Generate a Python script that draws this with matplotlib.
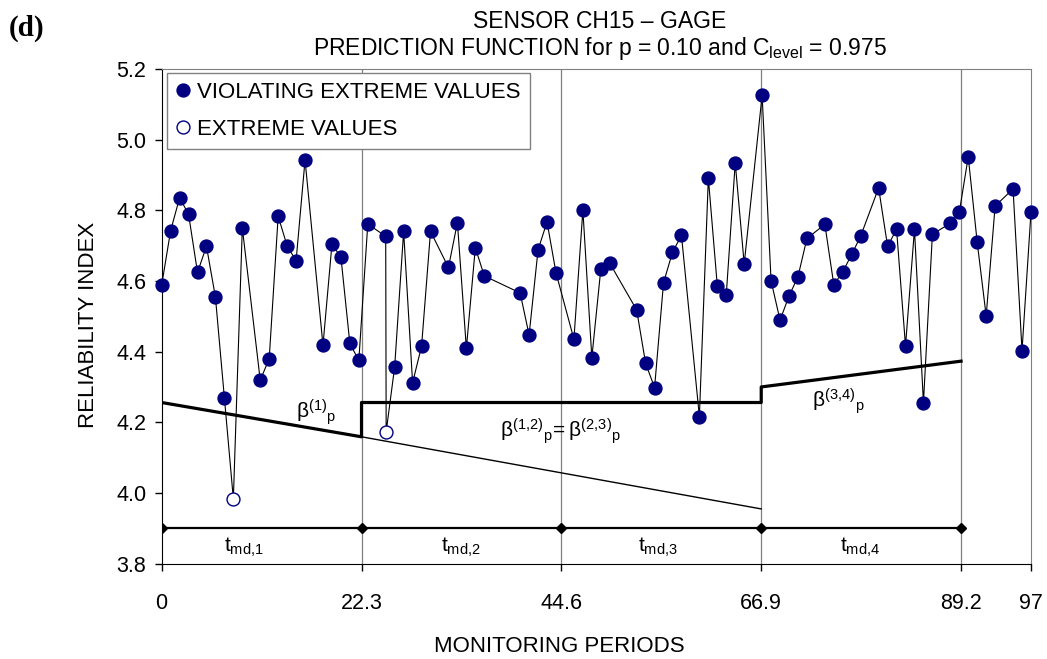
import matplotlib
matplotlib.use('Agg')
import matplotlib.pyplot as plt
from matplotlib.lines import Line2D

plt.rcParams['font.family'] = ['Liberation Sans', 'DejaVu Sans']
plt.rcParams['mathtext.fontset'] = 'custom'
plt.rcParams['mathtext.rm'] = 'Liberation Sans'
plt.rcParams['mathtext.it'] = 'Liberation Sans:italic'
plt.rcParams['mathtext.bf'] = 'Liberation Sans:bold'

# monitoring periods and reliability index of every measurement
periods = [0, 1, 2, 3, 4, 5, 6, 7, 8, 9, 11, 12, 13, 14, 15, 16, 18, 19, 20, 21,
           22, 23, 25, 25.05, 26, 27, 28, 29, 30, 32, 33, 34, 35, 36, 40, 41, 42,
           43, 44, 46, 47, 48, 49, 50, 53, 54, 55, 56, 57, 58, 60, 61, 62, 63, 64,
           65, 67, 68, 69, 70, 71, 72, 74, 75, 76, 77, 78, 80, 81, 82, 83, 84, 85,
           86, 88, 89, 90, 91, 92, 93, 95, 96, 97]
beta = [4.588, 4.742, 4.835, 4.789, 4.624, 4.698, 4.554, 4.269, 3.983, 4.750,
        4.319, 4.380, 4.783, 4.699, 4.657, 4.942, 4.418, 4.703, 4.668, 4.423,
        4.375, 4.761, 4.726, 4.173, 4.357, 4.740, 4.312, 4.415, 4.740, 4.638,
        4.765, 4.409, 4.694, 4.614, 4.566, 4.447, 4.688, 4.767, 4.623, 4.435,
        4.800, 4.383, 4.633, 4.650, 4.518, 4.367, 4.298, 4.595, 4.681, 4.729,
        4.216, 4.891, 4.586, 4.561, 4.934, 4.648, 5.125, 4.600, 4.489, 4.557,
        4.612, 4.720, 4.760, 4.589, 4.626, 4.675, 4.727, 4.863, 4.698, 4.746,
        4.416, 4.746, 4.255, 4.732, 4.763, 4.794, 4.951, 4.709, 4.501, 4.812,
        4.860, 4.403, 4.794]
extreme_periods = [8, 25.05]   # the two non-violating extreme values

# prediction function (thick) and its continuation (thin)
pred_x = [0, 22.3, 22.3, 66.9, 66.9, 89.2]
pred_y = [4.256, 4.159, 4.256, 4.256, 4.300, 4.373]
cont_x = [22.3, 66.9]
cont_y = [4.159, 3.955]

# monitoring intervals
t_nodes = [0, 22.3, 44.6, 66.9, 89.2]
t_level = 3.9
t_labels = [r'$\mathregular{t_{md,\!1}}$', r'$\mathregular{t_{md,\!2}}$',
            r'$\mathregular{t_{md,\!3}}$', r'$\mathregular{t_{md,\!4}}$']
t_label_x = [9.2, 33.4, 55.4, 77.9]

beta_labels = [r'$\mathregular{β^{(1)}{}_p}$',
               r'$\mathregular{β^{(1,\!2)}{}_p\!= β^{(2,\!3)}{}_p}$',
               r'$\mathregular{β^{(3,\!4)}{}_p}$']
beta_label_x = [17.2, 44.5, 75.5]
beta_label_y = [4.23, 4.175, 4.26]

xticks = [0, 22.3, 44.6, 66.9, 89.2, 97]
xticklabels = ['0', '22.3', '44.6', '66.9', '89.2', '97']
yticks = [3.8, 4.0, 4.2, 4.4, 4.6, 4.8, 5.0, 5.2]

navy = '#000080'
grey = '#808080'

fig = plt.figure(figsize=(10.47, 6.59), dpi=100)
ax = fig.add_axes([0.1544, 0.1446, 0.8303, 0.7510])

for x in t_nodes[1:]:
    ax.axvline(x, color=grey, lw=0.9, zorder=1)

ax.plot(pred_x, pred_y, color='black', lw=2.3, zorder=2)
ax.plot(cont_x, cont_y, color='black', lw=1.0, zorder=2)
ax.plot(t_nodes, [t_level] * len(t_nodes), color='black', lw=1.6,
        marker='D', markersize=5, zorder=2)

ax.plot(periods, beta, color='black', lw=0.8, zorder=3, clip_on=False)
viol_x = [p for p in periods if p not in extreme_periods]
viol_y = [b for p, b in zip(periods, beta) if p not in extreme_periods]
ext_y = [b for p, b in zip(periods, beta) if p in extreme_periods]
ax.plot(viol_x, viol_y, ls='none', marker='o', markersize=9.3,
        mfc=navy, mec=navy, zorder=4, clip_on=False)
ax.plot(extreme_periods, ext_y, ls='none', marker='o', markersize=9.3,
        mfc='white', mec=navy, mew=1.0, zorder=4, clip_on=False)

for lab, x in zip(t_labels, t_label_x):
    ax.text(x, 3.845, lab, ha='center', va='center', fontsize=15)
for lab, x, y in zip(beta_labels, beta_label_x, beta_label_y):
    ax.text(x, y, lab, ha='center', va='center', fontsize=15)

ax.set_xlim(0, 97)
ax.set_ylim(3.8, 5.2)
ax.set_xticks(xticks)
ax.set_xticklabels(xticklabels)
ax.set_yticks(yticks)
ax.set_yticklabels(['%.1f' % v for v in yticks])
ax.tick_params(direction='out', length=5, width=1, labelsize=15.5)
ax.tick_params(axis='x', pad=16)
ax.tick_params(axis='y', pad=6)
for s in ['top', 'right']:
    ax.spines[s].set_color(grey)
for s in ['left', 'bottom']:
    ax.spines[s].set_color('black')

handles = [Line2D([], [], ls='none', marker='o', markersize=9.3, mfc=navy, mec=navy),
           Line2D([], [], ls='none', marker='o', markersize=9.3, mfc='white', mec=navy)]
leg = ax.legend(handles, ['VIOLATING EXTREME VALUES', 'EXTREME VALUES'],
                loc='upper left', bbox_to_anchor=(0.0058, 0.992), borderaxespad=0,
                fontsize=16, fancybox=False, framealpha=1, edgecolor=grey,
                handlelength=0.6, handletextpad=0.35, labelspacing=0.7,
                borderpad=0.42)
leg.get_frame().set_linewidth(1.0)
leg.set_zorder(5)

fig.text(0.573, 0.967, 'SENSOR CH15 – GAGE', ha='center', va='center', fontsize=16.5)
fig.text(0.573, 0.927, r'PREDICTION FUNCTION for p = 0.10 and C$_{\mathregular{level}}$ = 0.975',
         ha='center', va='center', fontsize=16.5)
fig.text(0.5344, 0.0197, 'MONITORING PERIODS', ha='center', va='center', fontsize=16)
fig.text(0.0841, 0.507, 'RELIABILITY INDEX', ha='center', va='center',
         rotation=90, fontsize=16)
fig.text(0.0258, 0.957, '(d)', ha='center', va='center', fontsize=21,
         family='Liberation Serif', weight='bold')

fig.savefig('out.png', dpi=100)
